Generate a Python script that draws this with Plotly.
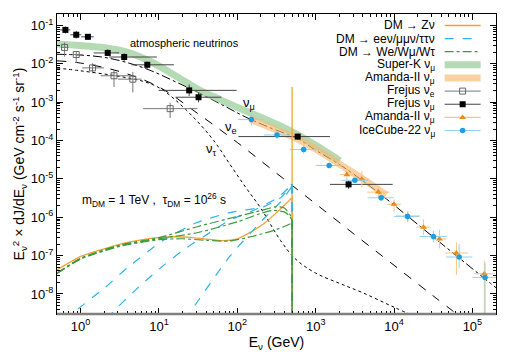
import math
import plotly.graph_objects as go

# atmospheric neutrino fluxes: E (GeV) and E^2 dJ/dE (GeV cm^-2 s^-1 sr^-1)
atm_numu_E = [0.5, 1, 2, 4, 8, 16, 32, 63, 126, 251, 589, 1000, 2000, 4000, 8000, 1.6e4, 3.2e4, 6.3e4, 1.26e5, 2e5]
atm_numu = [1.78e-2, 1.70e-2, 1.48e-2, 1.07e-2, 6.6e-3, 3.47e-3, 1.78e-3, 8.7e-4, 4.17e-4, 2.24e-4, 1.12e-4,
            5.6e-5, 2.4e-5, 8.9e-6, 3.0e-6, 9.5e-7, 3.0e-7, 9.8e-8, 3.1e-8, 1.45e-8]
atm_nue_E = [0.5, 1, 3.16, 10, 31.6, 100, 316, 1000, 3162, 1e4, 3.16e4, 7.1e4]
atm_nue = [1.2e-2, 1.05e-2, 6.3e-3, 2.5e-3, 5.0e-4, 8.9e-5, 1.41e-5, 2.24e-6, 3.5e-7, 5.6e-8, 8.9e-9, 2.5e-9]
atm_nutau_E = [0.5, 1, 3.16, 6.3, 10, 15.8, 29.5, 50, 80, 126, 200, 355, 562, 1000, 2000, 4000, 1e4, 2e4]
atm_nutau = [7.8e-3, 6.6e-3, 4.7e-3, 3.5e-3, 2.4e-3, 1.2e-3, 3.5e-4, 1.0e-4, 2.45e-5, 6.3e-6, 1.7e-6, 2.5e-7,
             7.9e-8, 3.5e-8, 1.9e-8, 1.07e-8, 4.5e-9, 2.4e-9]

# measured bands
superk_E = [0.5, 1, 2, 4, 8, 16, 32, 63, 126, 251, 501, 1000, 2040]
superk = [3.3e-2, 3.0e-2, 2.63e-2, 2.0e-2, 1.12e-2, 5.0e-3, 2.14e-3, 1.12e-3, 6.0e-4, 3.3e-4, 1.7e-4, 7.6e-5, 3.0e-5]
amanda_band_E = [148, 316, 589, 1000, 2040, 3981, 7943]
amanda_band = [3.55e-4, 1.9e-4, 1.1e-4, 6.0e-5, 2.4e-5, 1.0e-5, 3.8e-6]

# Frejus nu_mu
frejus_mu_E = [0.64, 0.88, 1.24, 2.22, 3.6, 7.1, 24.3, 32, 589, 2630]
frejus_mu_E_lo = [0.55, 0.74, 1.02, 1.47, 2.31, 4.46, 9.9, 16.3, 103, 1520]
frejus_mu_E_hi = [0.74, 1.02, 1.47, 3.1, 9.4, 15.5, 98, 62.5, 1520, 9600]
frejus_mu = [0.077, 0.0575, 0.0508, 0.0193, 0.0151, 0.00946, 2.04e-3, 1.35e-3, 1.27e-4, 7.2e-6]
frejus_mu_lo = [0.062, 0.046, 0.042, 0.016, 0.012, 0.0075, 1.45e-3, 1.0e-3, 1.05e-4, 5.5e-6]
frejus_mu_hi = [0.095, 0.072, 0.06, 0.024, 0.019, 0.0115, 2.9e-3, 1.8e-3, 1.5e-4, 9.0e-6]

# Frejus nu_e
frejus_e_E = [0.625, 0.88, 1.42, 2.67, 4.64, 13.9]
frejus_e_E_lo = [0.56, 0.78, 1.05, 1.8, 3.0, 6.3]
frejus_e_E_hi = [0.7, 1.05, 2.0, 4.5, 6.0, 31]
frejus_e = [0.0269, 0.0175, 0.00787, 0.0049, 0.0040, 6.8e-4]
frejus_e_lo = [0.0155, 0.0105, 0.0057, 0.0025, 0.0018, 3.9e-4]
frejus_e_hi = [0.036, 0.021, 0.0104, 0.0069, 0.0062, 9.7e-4]

# Amanda-II nu_mu unfolded points
amanda_E = [2500, 3880, 6300, 1.0e4, 1.5e4, 2.38e4, 3.8e4, 6.25e4, 1.42e5]
amanda_E_lo = [2028, 3147, 4532, 8110, 1.05e4, 1.93e4, 3.08e4, 4.5e4, 1.05e5]
amanda_E_hi = [3083, 4784, 8757, 1.233e4, 2.14e4, 2.93e4, 4.69e4, 8.7e4, 1.92e5]
amanda = [1.29e-5, 9.77e-6, 4.53e-6, 2.19e-6, 1.08e-6, 5.53e-7, 2.71e-7, 1.17e-7, 3.37e-8]
amanda_lo = [8.9e-6, 6.0e-6, 3.3e-6, 1.4e-6, 8.0e-7, 3.5e-7, 1.55e-7, 3.2e-8, 1e-9]
amanda_hi = [1.87e-5, 1.6e-5, 6.2e-6, 2.9e-6, 1.47e-6, 8.8e-7, 4.7e-7, 2.2e-7, 7.4e-8]

# IceCube-22 nu_mu
icecube_E = [151, 321, 703, 1484, 3162, 6840, 1.49e4, 3.18e4, 6.78e4, 1.45e5]
icecube_E_lo = [102, 218, 473, 1000, 2140, 4600, 1.0e4, 2.1e4, 4.6e4, 1.0e5]
icecube_E_hi = [222, 473, 1030, 2170, 4670, 1.0e4, 2.1e4, 4.7e4, 1.0e5, 2.1e5]
icecube = [3.53e-4, 1.40e-4, 5.82e-5, 2.24e-5, 9.18e-6, 3.22e-6, 1.05e-6, 3.16e-7, 9.2e-8, 2.7e-8]
icecube_lo = [2.45e-4, 1.1e-4, 4.6e-5, 1.9e-5, 8.0e-6, 2.6e-6, 7.5e-7, 2.2e-7, 4.7e-8, 1e-9]
icecube_hi = [5.1e-4, 1.8e-4, 7.4e-5, 2.65e-5, 1.05e-5, 3.9e-6, 1.39e-6, 4.5e-7, 2.0e-7, 6.4e-8]

# decaying DM, m = 1 TeV, tau = 1e26 s -> spectra end at E = m/2
dm_cut_E = 500
dm_floor = 1e-10
dm_zn_E = [0.5, 1, 2, 4, 7.9, 14.8, 25, 40, 66, 100, 148, 224, 324, 417, 500]
dm_zn = [4.2e-8, 9.5e-8, 1.5e-7, 2.2e-7, 2.8e-7, 3.1e-7, 3.0e-7, 2.7e-7, 2.45e-7, 2.75e-7, 4.1e-7, 7.1e-7,
         1.38e-6, 2.24e-6, 3.3e-6]
dm_zn_line_peak = 2.5e-3
dm_llnu_E = [
    [0.65, 0.78, 2, 4.04, 11, 29.5, 80, 219, 355, 500],
    [2.2, 2.45, 5, 11, 22.4, 49, 79, 146, 324, 500],
    [22, 24.3, 80, 219, 355, 483, 500],
]
dm_llnu = [
    [1.8e-9, 3.0e-9, 1.41e-8, 5.0e-8, 2.4e-7, 7.1e-7, 1.32e-6, 1.9e-6, 3.2e-6, 7.2e-6],
    [2.2e-9, 3.0e-9, 1.26e-8, 5.2e-8, 1.6e-7, 4.5e-7, 8.3e-7, 1.38e-6, 3.2e-6, 7.2e-6],
    [2.0e-9, 3.0e-9, 9.5e-8, 9.3e-7, 2.5e-6, 5.9e-6, 7.2e-6],
]
dm_wl_E = [
    [0.5, 1, 3.16, 10, 31.6, 100, 200, 316, 398, 468, 500],
    [0.5, 1, 3.16, 10, 31.6, 100, 200, 282, 398, 468, 500],
    [0.5, 1, 3.16, 10, 20, 40, 79, 158, 316, 500],
]
dm_wl = [
    [3.5e-8, 8.5e-8, 1.9e-7, 2.95e-7, 5.75e-7, 1.05e-6, 1.5e-6, 1.9e-6, 1.74e-6, 1.2e-6, 8.9e-7],
    [3.4e-8, 8.3e-8, 1.82e-7, 2.75e-7, 4.0e-7, 7.6e-7, 1.26e-6, 1.5e-6, 1.38e-6, 1.05e-6, 8.3e-7],
    [3.4e-8, 8.1e-8, 1.74e-7, 2.6e-7, 2.75e-7, 2.5e-7, 2.4e-7, 3.2e-7, 4.8e-7, 7.1e-7],
]

x_tickvals = [1, 10, 100, 1e3, 1e4, 1e5]
x_ticktext = ["10<sup>0</sup>", "10<sup>1</sup>", "10<sup>2</sup>", "10<sup>3</sup>", "10<sup>4</sup>", "10<sup>5</sup>"]
y_tickvals = [1e-8, 1e-7, 1e-6, 1e-5, 1e-4, 1e-3, 1e-2, 1e-1]
y_ticktext = ["10<sup>-8</sup>", "10<sup>-7</sup>", "10<sup>-6</sup>", "10<sup>-5</sup>",
              "10<sup>-4</sup>", "10<sup>-3</sup>", "10<sup>-2</sup>", "10<sup>-1</sup>"]

legend_labels = ["DM → Zν", "DM → eeν/μμν/ττν", "DM → We/Wμ/Wτ", "Super-K ν<sub>μ</sub>",
                 "Amanda-II ν<sub>μ</sub>", "Frejus ν<sub>e</sub>", "Frejus ν<sub>μ</sub>",
                 "Amanda-II ν<sub>μ</sub>", "IceCube-22 ν<sub>μ</sub>"]

ORANGE = "#f5a033"
BLUE_DM = "#2eb3ea"
GREEN_DM = "#3c9a3c"
SK_GREEN = "rgba(140,200,140,0.65)"
AM_BAND = "rgba(248,185,110,0.65)"
AM_PT = "#f08a0a"
AM_ERR = "#f8c384"
IC_PT = "#1a9fe2"
IC_ERR = "#8fd4f4"
FONT = "Liberation Sans, Arial, sans-serif"


def errs(v, lo, hi, color):
    return dict(type="data", symmetric=False,
                array=[h - x for x, h in zip(v, hi)],
                arrayminus=[x - l for x, l in zip(v, lo)],
                thickness=1, width=0, color=color)


def dm_curve(fig, xs, ys, line):
    fig.add_trace(go.Scatter(x=xs, y=ys, mode="lines", line=dict(shape="spline", smoothing=0.6, **line)))
    # sharp kinematic cut-off
    fig.add_trace(go.Scatter(x=[xs[-1], xs[-1]], y=[ys[-1], dm_floor], mode="lines", line=line))


fig = go.Figure()

# atmospheric fluxes
fig.add_trace(go.Scatter(x=atm_numu_E, y=atm_numu, mode="lines",
                         line=dict(color="black", width=1, dash="dashdot", shape="spline")))
fig.add_trace(go.Scatter(x=atm_nue_E, y=atm_nue, mode="lines",
                         line=dict(color="black", width=1, dash="dash", shape="spline")))
fig.add_trace(go.Scatter(x=atm_nutau_E, y=atm_nutau, mode="lines",
                         line=dict(color="black", width=1, dash="dot", shape="spline")))

# bands
fig.add_trace(go.Scatter(x=superk_E, y=superk, mode="lines",
                         line=dict(color=SK_GREEN, width=7, shape="spline")))
fig.add_trace(go.Scatter(x=amanda_band_E, y=amanda_band, mode="lines",
                         line=dict(color=AM_BAND, width=7, shape="spline")))

# data points
fig.add_trace(go.Scatter(x=frejus_e_E, y=frejus_e, mode="markers",
                         marker=dict(symbol="square-open", size=6, color="#666666", line=dict(width=1)),
                         error_x=errs(frejus_e_E, frejus_e_E_lo, frejus_e_E_hi, "#777777"),
                         error_y=errs(frejus_e, frejus_e_lo, frejus_e_hi, "#777777")))
fig.add_trace(go.Scatter(x=frejus_mu_E, y=frejus_mu, mode="markers",
                         marker=dict(symbol="square", size=6, color="black"),
                         error_x=errs(frejus_mu_E, frejus_mu_E_lo, frejus_mu_E_hi, "#444444"),
                         error_y=errs(frejus_mu, frejus_mu_lo, frejus_mu_hi, "#444444")))
fig.add_trace(go.Scatter(x=amanda_E, y=amanda, mode="markers",
                         marker=dict(symbol="triangle-up", size=6, color=AM_PT),
                         error_x=errs(amanda_E, amanda_E_lo, amanda_E_hi, AM_ERR),
                         error_y=errs(amanda, amanda_lo, amanda_hi, AM_ERR)))
fig.add_trace(go.Scatter(x=icecube_E, y=icecube, mode="markers",
                         marker=dict(symbol="circle", size=5.5, color=IC_PT),
                         error_x=errs(icecube_E, icecube_E_lo, icecube_E_hi, IC_ERR),
                         error_y=errs(icecube, icecube_lo, icecube_hi, IC_ERR)))

# DM decay spectra
fig.add_trace(go.Scatter(x=[dm_cut_E, dm_cut_E], y=[dm_floor, dm_zn_line_peak], mode="lines",
                         line=dict(color=ORANGE, width=1.3)))
dm_curve(fig, dm_zn_E, dm_zn, dict(color=ORANGE, width=1.3))
for xs, ys in zip(dm_llnu_E, dm_llnu):
    dm_curve(fig, xs, ys, dict(color=BLUE_DM, width=1.2, dash="dash"))
for xs, ys in zip(dm_wl_E, dm_wl):
    dm_curve(fig, xs, ys, dict(color=GREEN_DM, width=1.2, dash="dashdot"))

# hand-made legend, symbols on the right like the original
leg_styles = [
    dict(line=dict(color=ORANGE, width=1.5), marker=None),
    dict(line=dict(color=BLUE_DM, width=1.2, dash="dash"), marker=None),
    dict(line=dict(color=GREEN_DM, width=1.2, dash="dashdot"), marker=None),
    dict(line=dict(color=SK_GREEN, width=7), marker=None),
    dict(line=dict(color=AM_BAND, width=7), marker=None),
    dict(line=dict(color="#777777", width=1), marker=dict(symbol="square-open", size=6, color="#666666")),
    dict(line=dict(color="#444444", width=1), marker=dict(symbol="square", size=6, color="black")),
    dict(line=dict(color=AM_ERR, width=1.2), marker=dict(symbol="triangle-up", size=6, color=AM_PT)),
    dict(line=dict(color=IC_ERR, width=1.2), marker=dict(symbol="circle", size=5.5, color=IC_PT)),
]
x0, x1, xt = 0.883, 0.965, 0.865
for i, (lab, st) in enumerate(zip(legend_labels, leg_styles)):
    yy = 0.962 - i * 0.0438
    fig.add_trace(go.Scatter(x=[x0, x1], y=[yy, yy], mode="lines", line=st["line"],
                             xaxis="x2", yaxis="y2"))
    if st["marker"]:
        fig.add_trace(go.Scatter(x=[(x0 + x1) / 2], y=[yy], mode="markers", marker=st["marker"],
                                 xaxis="x2", yaxis="y2"))
    fig.add_annotation(x=xt, y=yy, xref="paper", yref="paper", text=lab, showarrow=False,
                       xanchor="right", yanchor="middle", font=dict(size=12, color="black"))

# text labels
labels = [
    (21.4, 0.0357, "atmospheric neutrinos", 11),
    (142, 9.4e-4, "ν<sub>μ</sub>", 13),
    (82, 2.2e-4, "ν<sub>e</sub>", 13),
    (47, 5.9e-5, "ν<sub>τ</sub>", 13),
    (8.6, 2.85e-6, "m<sub>DM</sub> = 1 TeV ,  τ<sub>DM</sub> = 10<sup>26</sup> s", 12),
]
for ex, ey, txt, sz in labels:
    fig.add_annotation(x=math.log10(ex), y=math.log10(ey), text=txt, showarrow=False,
                       font=dict(size=sz, color="black"))

x_minor = [k * 10 ** n for n in range(-1, 6) for k in range(2, 10)]
y_minor = [k * 10 ** n for n in range(-9, 0) for k in range(2, 10)]

# the page body adds an 8 px margin, so the figure is drawn 8 px smaller
fig.update_layout(
    width=502, height=349,
    margin=dict(l=49, r=14, t=6, b=43),
    paper_bgcolor="white", plot_bgcolor="white",
    showlegend=False,
    font=dict(family=FONT, size=13, color="black"),
    xaxis=dict(type="log", range=[math.log10(0.5), math.log10(2e5)], automargin=False,
               tickvals=x_tickvals, ticktext=x_ticktext,
               ticks="inside", ticklen=6, tickcolor="black",
               minor=dict(tickvals=x_minor, ticks="inside", ticklen=3, tickcolor="black", showgrid=False),
               showline=True, linecolor="black", linewidth=1, mirror="ticks",
               showgrid=False, zeroline=False,
               title=dict(text="E<sub>ν</sub> (GeV)", font=dict(size=14), standoff=4)),
    yaxis=dict(type="log", range=[math.log10(3e-9), math.log10(0.2)], automargin=False,
               tickvals=y_tickvals, ticktext=y_ticktext,
               ticks="inside", ticklen=6, tickcolor="black",
               minor=dict(tickvals=y_minor, ticks="inside", ticklen=3, tickcolor="black", showgrid=False),
               showline=True, linecolor="black", linewidth=1, mirror="ticks",
               showgrid=False, zeroline=False,
               title=dict(text="E<sub>ν</sub><sup>2</sup> × dJ/dE<sub>ν</sub> (GeV cm<sup>-2</sup> s<sup>-1</sup> sr<sup>-1</sup>)",
                          font=dict(size=14), standoff=2)),
    xaxis2=dict(range=[0, 1], overlaying="x", anchor="y2", visible=False),
    yaxis2=dict(range=[0, 1], overlaying="y", anchor="x2", visible=False),
    shapes=[dict(type="line", xref="paper", yref="paper", x0=0, x1=1, y0=0, y1=0,
                 line=dict(color="#808080", width=2.5))],
)

fig.write_html("out.html")
